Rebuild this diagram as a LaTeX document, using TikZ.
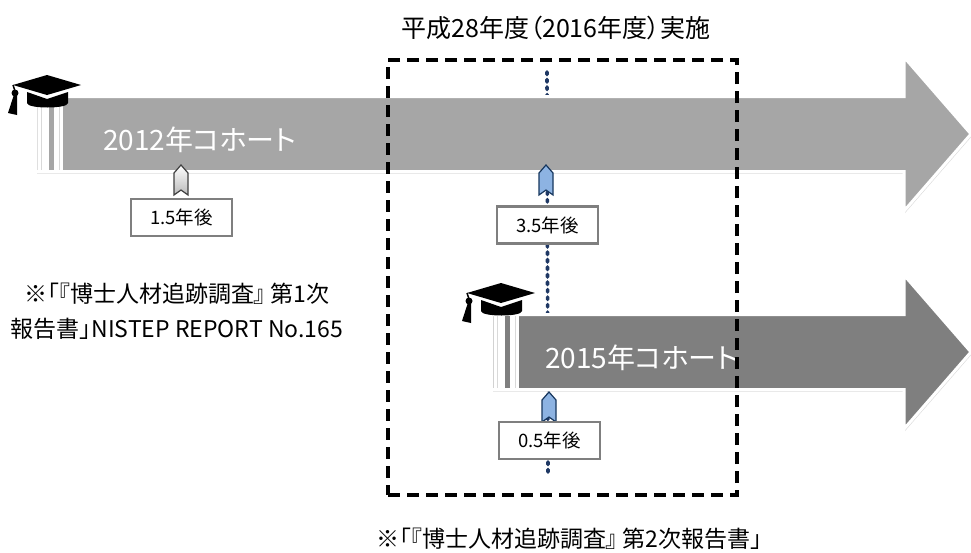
\documentclass[tikz,border=0pt]{standalone}
\usepackage{fontspec}
\setmainfont[RawFeature = +palt]{Noto Sans CJK JP}
\usepackage{tikz}
\usetikzlibrary{shadows}

\definecolor{cohortlight}{HTML}{A6A6A6}
\definecolor{cohortdark}{HTML}{7F7F7F}
\definecolor{markblue}{HTML}{8DB3E2}
\definecolor{markline}{HTML}{17375E}
\definecolor{surveynavy}{HTML}{1F3864}
\definecolor{boxgray}{HTML}{7F7F7F}

\begin{document}
\begin{tikzpicture}[x = 1pt, y = -1pt,
    yearbox/.style = {draw = boxgray, line width = 2.2pt, fill = white, minimum width = 101pt,
      minimum height = 37pt, inner sep = 0pt, font = \fontsize{18.5}{22}\selectfont},
    cohorttext/.style = {anchor = west, text = white, inner sep = 0pt, font = \fontsize{28}{32}\selectfont},
    markgray/.style = {top color = white, bottom color = gray!55, draw = black!75, line width = 1.2pt},
    markblue/.style = {fill = markblue, draw = markline, line width = 1.2pt},
    surveyline/.style = {surveynavy, line width = 3.6pt, line cap = round, dash pattern = on 2.5pt off 5pt},
    surveyframe/.style = {draw, line width = 3.4pt, dash pattern = on 12pt off 7pt},
    notetext/.style = {font = \fontsize{23}{35}\selectfont, inner sep = 0pt}]

    \fill[white] (0, 0) rectangle (971, 552);
    \useasboundingbox (0, 0) rectangle (971, 552);

    % survey time line, behind the cohort arrows
    \coordinate (surveytop) at (547, 72);
    \coordinate (surveybottom) at (548, 472);
    \draw[surveyline] (surveytop) -- (surveybottom);

    % cohort arrows with caps
    \foreach \ax/\ay/\acol/\cx/\cy/\tx/\cohort in
        {36/134/cohortlight/13/85/103/2012, 492/352/cohortdark/467/293/545/2015} {
      \path[fill = \acol, draw = white, line width = 3pt,
            drop shadow = {opacity = 0.3, shadow xshift = 1pt, shadow yshift = -2pt}]
        (\ax, \ay - 37.5) -- (904, \ay - 37.5) -- (904, \ay - 77) -- (971, \ay)
        -- (904, \ay + 77) -- (904, \ay + 37.5) -- (\ax, \ay + 37.5) -- cycle;
      \fill[white] (\ax + 1.5, \ay - 36) rectangle (\ax + 27, \ay + 36);
      \fill[\acol] (\ax + 13, \ay - 36) rectangle (\ax + 18, \ay + 36);
      \draw[gray!30, line width = 0.8pt] (\ax + 5, \ay - 36) -- (\ax + 5, \ay + 36)
        (\ax + 23, \ay - 36) -- (\ax + 23, \ay + 36);
      \node[cohorttext] (cohort\cohort) at (\tx, \ay + 6) {\cohort 年コホート};

      \begin{scope}[shift = {(\cx, \cy)}]
        \fill (0, 0) -- (34, -10) -- (68, 0) -- (34, 10) -- cycle;
        \fill (14, 7) -- (34, 14) -- (55, 7) -- (55, 18) .. controls (55, 24) and (14, 24) .. (14, 18) -- cycle;
        \draw[line width = 1.5pt] (0, 0) -- (2, 6);
        \fill (2, 8) circle[radius = 3.5];
        \fill (0.5, 11) -- (-5, 28) -- (4, 30) -- (4, 11) -- cycle;
      \end{scope}
    }

    % markers and their labels
    \foreach \mx/\my/\mstyle/\mname/\bx/\by/\btext in
        {181/165/markgray/a/181.5/217.5/1.5, 546/165/markblue/b/547.5/225/3.5, 549/392/markblue/c/549.5/440.5/0.5} {
      \path[\mstyle, shift = {(\mx, \my)}]
        (0, 0) -- (7, 8) -- (7, 30) -- (0, 25) -- (-7, 30) -- (-7, 8) -- cycle;
      \node[yearbox] (after\mname) at (\bx, \by) {\btext 年後};
    }

    \node[surveyframe, minimum width = 349pt, minimum height = 435pt] (survey) at (562.5, 277.5) {};

    \node[font = \fontsize{25}{30}\selectfont] (title) at (556, 28) {平成28年度（2016年度）実施};
    \node[notetext, align = center] (firstreport) at (177, 311)
      {※「『博士人材追跡調査』 第1次\\報告書」NISTEP REPORT No.165};
    \node[notetext, anchor = west] (secondreport) at (376, 539) {※「『博士人材追跡調査』 第2次報告書」};
\end{tikzpicture}
\end{document}
